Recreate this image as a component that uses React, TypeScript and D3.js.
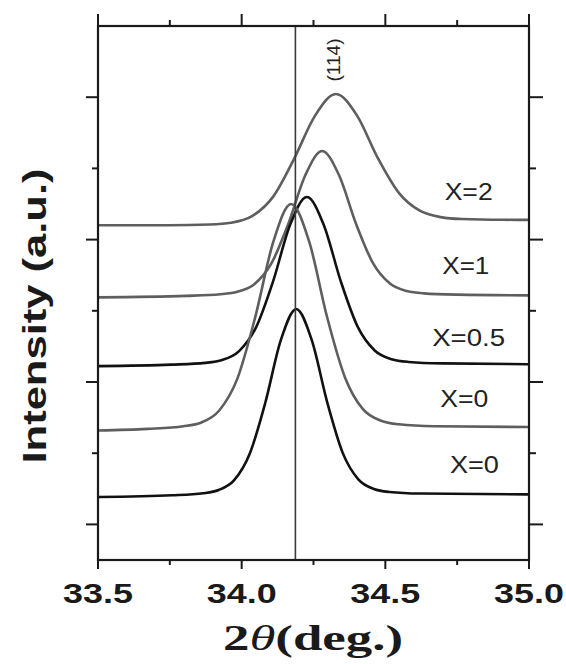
import React from "react";
import * as d3 from "d3";

// ---- data ----
const xMajorTicks = [33.5, 34.0, 34.5, 35.0];
const xMinorTicks = [33.75, 34.25, 34.75];
const xTickLabels = ["33.5", "34.0", "34.5", "35.0"];
const yMajorTicks = [0.5, 2.5, 4.5, 6.5];
const yMinorTicks = [1.5, 3.5, 5.5];
const refLine = 34.187;
const peakLabel = "(114)";

const seriesX2: [number, number][] = [[33.5,4.702],[33.744,4.702],[33.89,4.713],[33.963,4.737],[34.036,4.829],[34.109,5.100],[34.182,5.631],[34.255,6.238],[34.328,6.545],[34.401,6.245],[34.474,5.645],[34.547,5.157],[34.62,4.906],[34.693,4.816],[34.766,4.789],[34.912,4.778],[35.0,4.777]];
const seriesX1: [number, number][] = [[33.5,3.689],[33.808,3.710],[33.926,3.732],[33.985,3.767],[34.044,3.874],[34.103,4.162],[34.162,4.717],[34.221,5.400],[34.28,5.744],[34.339,5.403],[34.398,4.722],[34.457,4.169],[34.516,3.883],[34.575,3.778],[34.634,3.745],[34.752,3.727],[35.0,3.717]];
const seriesX05: [number, number][] = [[33.5,2.723],[33.755,2.744],[33.873,2.769],[33.932,2.809],[33.991,2.934],[34.05,3.267],[34.109,3.909],[34.168,4.701],[34.227,5.098],[34.286,4.703],[34.345,3.914],[34.404,3.274],[34.463,2.943],[34.522,2.820],[34.581,2.782],[34.699,2.761],[35.0,2.750]];
const seriesX0a: [number, number][] = [[33.5,1.819],[33.672,1.841],[33.797,1.878],[33.86,1.932],[33.922,2.100],[33.985,2.547],[34.047,3.407],[34.11,4.467],[34.172,5.000],[34.235,4.471],[34.297,3.417],[34.36,2.561],[34.422,2.118],[34.485,1.956],[34.547,1.906],[34.672,1.879],[35.0,1.868]];
const seriesX0b: [number, number][] = [[33.5,0.884],[33.758,0.909],[33.866,0.938],[33.92,0.983],[33.974,1.121],[34.028,1.492],[34.082,2.205],[34.136,3.084],[34.19,3.525],[34.244,3.087],[34.298,2.211],[34.352,1.501],[34.406,1.133],[34.46,0.998],[34.514,0.956],[34.622,0.933],[35.0,0.922]];

const seriesNames = ["X=2", "X=1", "X=0.5", "X=0", "X=0"];
const seriesData = [seriesX2, seriesX1, seriesX05, seriesX0a, seriesX0b];
const seriesColors = ["#5e5e5e", "#5e5e5e", "#111111", "#5e5e5e", "#111111"];
// label anchor: [x in deg, y in a.u.] placed beside each curve's right baseline
const labelPosX = [34.79, 34.78, 34.79, 34.775, 34.81];
const labelPosY = [5.06, 4.02, 3.0, 2.15, 1.22];
const labelWidths = [48, 47, 73, 48, 49];

const W = 566;
const H = 664;
const left = 98, right = 529, top = 26, bottom = 560;

export default function App() {
  const x = d3.scaleLinear().domain([33.5, 35]).range([left, right]);
  const y = d3.scaleLinear().domain([0, 7.5]).range([bottom, top]);
  const line = d3
    .line<[number, number]>()
    .x((d) => x(d[0]))
    .y((d) => y(d[1]))
    .curve(d3.curveMonotoneX);

  const axisColor = "#1a1a1a";
  return (
    <svg
      width={W}
      height={H}
      style={{ position: "absolute", left: 0, top: 0, background: "#fff" }}
    >
      <rect x={0} y={0} width={W} height={H} fill="#fff" />
      {/* curves */}
      {seriesData.map((s, i) => (
        <path
          key={i}
          d={line(s) || ""}
          fill="none"
          stroke={seriesColors[i]}
          strokeWidth={2.6}
          strokeLinejoin="round"
        />
      ))}
      {/* reference vertical line */}
      <line x1={x(refLine)} x2={x(refLine)} y1={top} y2={bottom} stroke="#3a3a3a" strokeWidth={1.6} />

      {/* frame */}
      <rect x={left} y={top} width={right - left} height={bottom - top} fill="none" stroke={axisColor} strokeWidth={2.2} />

      {/* x ticks bottom & top */}
      {xMajorTicks.map((t, i) => (
        <g key={"xm" + i}>
          <line x1={x(t)} x2={x(t)} y1={bottom} y2={bottom + 9} stroke={axisColor} strokeWidth={2} />
          <line x1={x(t)} x2={x(t)} y1={top} y2={top - 12} stroke={axisColor} strokeWidth={2} />
        </g>
      ))}
      {xMinorTicks.map((t, i) => (
        <g key={"xn" + i}>
          <line x1={x(t)} x2={x(t)} y1={bottom} y2={bottom + 5} stroke={axisColor} strokeWidth={2} />
          <line x1={x(t)} x2={x(t)} y1={top} y2={top - 6} stroke={axisColor} strokeWidth={2} />
        </g>
      ))}
      {/* y ticks left & right */}
      {yMajorTicks.map((t, i) => (
        <g key={"ym" + i}>
          <line x1={left} x2={left - 12} y1={y(t)} y2={y(t)} stroke={axisColor} strokeWidth={2} />
          <line x1={right} x2={right + 14} y1={y(t)} y2={y(t)} stroke={axisColor} strokeWidth={2} />
        </g>
      ))}
      {yMinorTicks.map((t, i) => (
        <g key={"yn" + i}>
          <line x1={left} x2={left - 6} y1={y(t)} y2={y(t)} stroke={axisColor} strokeWidth={2} />
          <line x1={right} x2={right + 7} y1={y(t)} y2={y(t)} stroke={axisColor} strokeWidth={2} />
        </g>
      ))}

      {/* x tick labels */}
      {xMajorTicks.map((t, i) => (
        <text
          key={"xl" + i}
          x={x(t)}
          y={603}
          textAnchor="middle"
          fontFamily="'Liberation Sans', Arial, sans-serif"
          fontWeight="bold"
          fontSize={28}
          textLength={70}
          lengthAdjust="spacingAndGlyphs"
          fill="#1a1a1a"
        >
          {xTickLabels[i]}
        </text>
      ))}

      {/* x title */}
      <text
        x={313}
        y={650}
        textAnchor="middle"
        fontFamily="'Liberation Serif', 'Times New Roman', serif"
        fontWeight="bold"
        fontSize={36}
        textLength={180}
        lengthAdjust="spacingAndGlyphs"
        fill="#1a1a1a"
      >
        2<tspan fontStyle="italic" fontWeight="normal">θ</tspan>(deg.)
      </text>

      {/* y title */}
      <text
        transform={`translate(46,316) rotate(-90)`}
        textAnchor="middle"
        fontFamily="'Liberation Sans', Arial, sans-serif"
        fontWeight="bold"
        fontSize={34}
        textLength={295}
        lengthAdjust="spacingAndGlyphs"
        fill="#1a1a1a"
      >
        Intensity (a.u.)
      </text>

      {/* series labels */}
      {seriesNames.map((n, i) => (
        <text
          key={"sl" + i}
          x={x(labelPosX[i])}
          y={y(labelPosY[i])}
          textAnchor="middle"
          fontFamily="'Liberation Sans', Arial, sans-serif"
          fontSize={24}
          textLength={labelWidths[i]}
          lengthAdjust="spacingAndGlyphs"
          fill="#222"
        >
          {n}
        </text>
      ))}

      {/* peak label */}
      <text
        transform={`translate(340,60) rotate(-90)`}
        textAnchor="middle"
        fontFamily="'Liberation Sans', Arial, sans-serif"
        fontSize={19}
        fill="#222"
      >
        {peakLabel}
      </text>
    </svg>
  );
}
